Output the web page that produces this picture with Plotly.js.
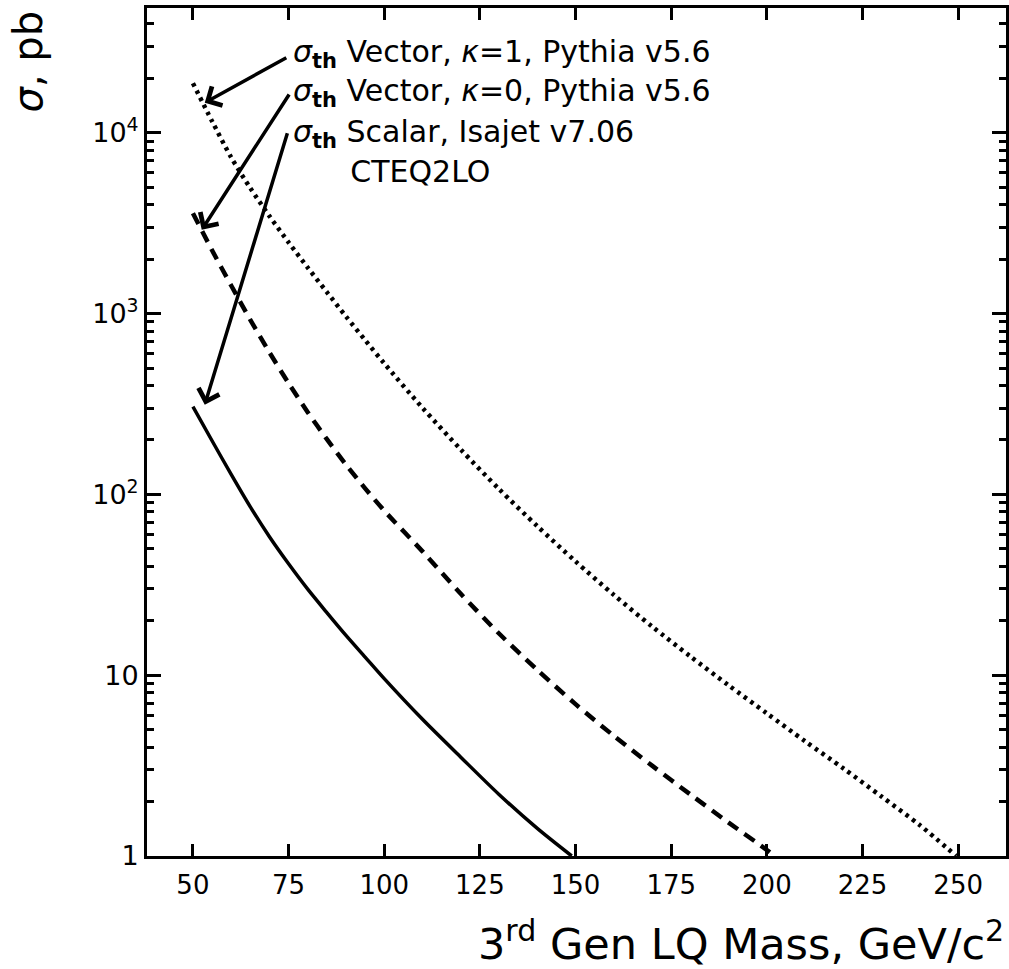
<!DOCTYPE html>
<html>
<head>
<meta charset="utf-8">
<script src="https://cdn.plot.ly/plotly-3.0.1.min.js"></script>
<style>html,body{margin:0;padding:0;background:#fff}#chart{width:1009px;height:969px}</style>
</head>
<body>
<div id="chart"></div>
<script>
// Scalar, Isajet v7.06 (solid)
const massScalar = [50, 55, 60, 65, 70, 75, 80, 85, 90, 95, 100, 110, 120, 130, 140, 149];
const sigmaScalar = [306, 198, 129, 85.3, 58.3, 41.3, 29.9, 22.2, 16.6, 12.6, 9.57, 5.70, 3.52, 2.19, 1.42, 1.0];

// Vector, kappa=0, Pythia v5.6 (dashed)
const massVec0 = [50, 55, 60, 65, 70, 75, 80, 85, 90, 95, 100, 110, 120, 130, 140, 150, 160, 170, 180, 190, 200, 202];
const sigmaVec0 = [3590, 2239, 1429, 923, 610, 412, 285, 202, 146, 108, 81.3, 48.4, 28.2, 17.0, 10.7, 6.92, 4.62, 3.16, 2.19, 1.53, 1.08, 1.0];

// Vector, kappa=1, Pythia v5.6 (dotted)
const massVec1 = [50, 55, 60, 65, 70, 75, 80, 85, 90, 95, 100, 110, 120, 130, 140, 150, 160, 170, 180, 190, 200, 210, 220, 230, 240, 249.5];
const sigmaVec1 = [18800, 11590, 7310, 4940, 3460, 2477, 1795, 1315, 964, 714, 530, 301, 177, 107, 66.7, 42.6, 27.8, 18.6, 12.7, 8.79, 6.15, 4.31, 3.05, 2.13, 1.48, 1.0];

// Tick labels
const xTickVals = [50, 75, 100, 125, 150, 175, 200, 225, 250];
const yTickVals = [1, 10, 100, 1000, 10000];
const yTickText = ['1', '10', '10<sup>2</sup>', '10<sup>3</sup>', '10<sup>4</sup>'];

// Label lines
const labelLines = [
  '<i>σ</i><sub><b>th</b></sub> Vector, <i>κ</i>=1, Pythia v5.6',
  '<i>σ</i><sub><b>th</b></sub> Vector, <i>κ</i>=0, Pythia v5.6',
  '<i>σ</i><sub><b>th</b></sub> Scalar, Isajet v7.06',
  '      CTEQ2LO'
];
const labelY = [27500, 16800, 9900, 6080];
const labelX = 75.6;

// Arrows: tail (near label) -> head (curve start)
const arrowTailX = [74.8, 75.4, 74.8];
const arrowTailY = [26300, 16600, 10130];
const arrowHeadX = [53.1, 52.3, 53.1];
const arrowHeadY = [14650, 2905, 313];

const FONT = 'DejaVu Sans, sans-serif';

const traces = [
  {x: massScalar, y: sigmaScalar, mode: 'lines', line: {color: '#000', width: 3.5, shape: 'spline', smoothing: 0.8}, name: 'Scalar'},
  {x: massVec0, y: sigmaVec0, mode: 'lines', line: {color: '#000', width: 4.5, dash: '12px,8px', shape: 'spline', smoothing: 0.8}, name: 'Vector k=0'},
  {x: massVec1, y: sigmaVec1, mode: 'lines', line: {color: '#000', width: 4.5, dash: '3.5px,4.5px', shape: 'spline', smoothing: 0.8}, name: 'Vector k=1'}
];

const minorY = [];
for (let d = 0; d < 5; d++) for (let m = 2; m <= 9; m++) minorY.push(m * Math.pow(10, d));

const annotations = [];
labelLines.forEach((t, i) => {
  annotations.push({x: labelX, y: Math.log10(labelY[i]), xref: 'x', yref: 'y', text: t, showarrow: false,
    xanchor: 'left', yanchor: 'middle', align: 'left', font: {family: FONT, size: 30, color: '#000'}});
});
arrowTailX.forEach((tx, i) => {
  annotations.push({x: arrowHeadX[i], y: Math.log10(arrowHeadY[i]), ax: tx, ay: Math.log10(arrowTailY[i]),
    xref: 'x', yref: 'y', axref: 'x', ayref: 'y', text: '', showarrow: true,
    arrowhead: 4, arrowsize: 1.2, arrowwidth: 3.5, arrowcolor: '#000', standoff: 0, startstandoff: 0});
});
annotations.push({xref: 'paper', yref: 'paper', x: 1.0, y: -0.1, xanchor: 'right', yanchor: 'middle',
  text: '3<sup>rd</sup> Gen LQ Mass, GeV/c<sup>2</sup>', showarrow: false, font: {family: FONT, size: 43, color: '#000'}});
annotations.push({xref: 'paper', yref: 'paper', x: -0.138, y: 1.0, xanchor: 'center', yanchor: 'top', textangle: -90,
  text: '<i>σ</i>, pb', showarrow: false, font: {family: FONT, size: 40, color: '#000'}});

const layout = {
  width: 1009, height: 969,
  margin: {l: 147, r: 3, t: 8, b: 113},
  paper_bgcolor: '#fff', plot_bgcolor: '#fff',
  showlegend: false,
  font: {family: FONT, color: '#000'},
  xaxis: {
    range: [38, 262.5], tickmode: 'array', tickvals: xTickVals,
    ticks: 'inside', ticklen: 12, tickwidth: 3, tickcolor: '#000',
    showline: true, linewidth: 3, linecolor: '#000', mirror: 'ticks',
    showgrid: false, zeroline: false,
    tickfont: {family: FONT, size: 26, color: '#000'}, ticklabelstandoff: 4
  },
  yaxis: {
    type: 'log', range: [0, 4.69], tickmode: 'array', tickvals: yTickVals, ticktext: yTickText,
    ticks: 'inside', ticklen: 14, tickwidth: 3, tickcolor: '#000',
    minor: {tickmode: 'array', tickvals: minorY, ticks: 'inside', ticklen: 7, tickwidth: 3, tickcolor: '#000', showgrid: false},
    showline: true, linewidth: 3, linecolor: '#000', mirror: 'ticks',
    showgrid: false, zeroline: false,
    tickfont: {family: FONT, size: 27, color: '#000'}, ticklabelstandoff: 0
  },
  annotations: annotations
};

Plotly.newPlot('chart', traces, layout, {staticPlot: true});
</script>
</body>
</html>
